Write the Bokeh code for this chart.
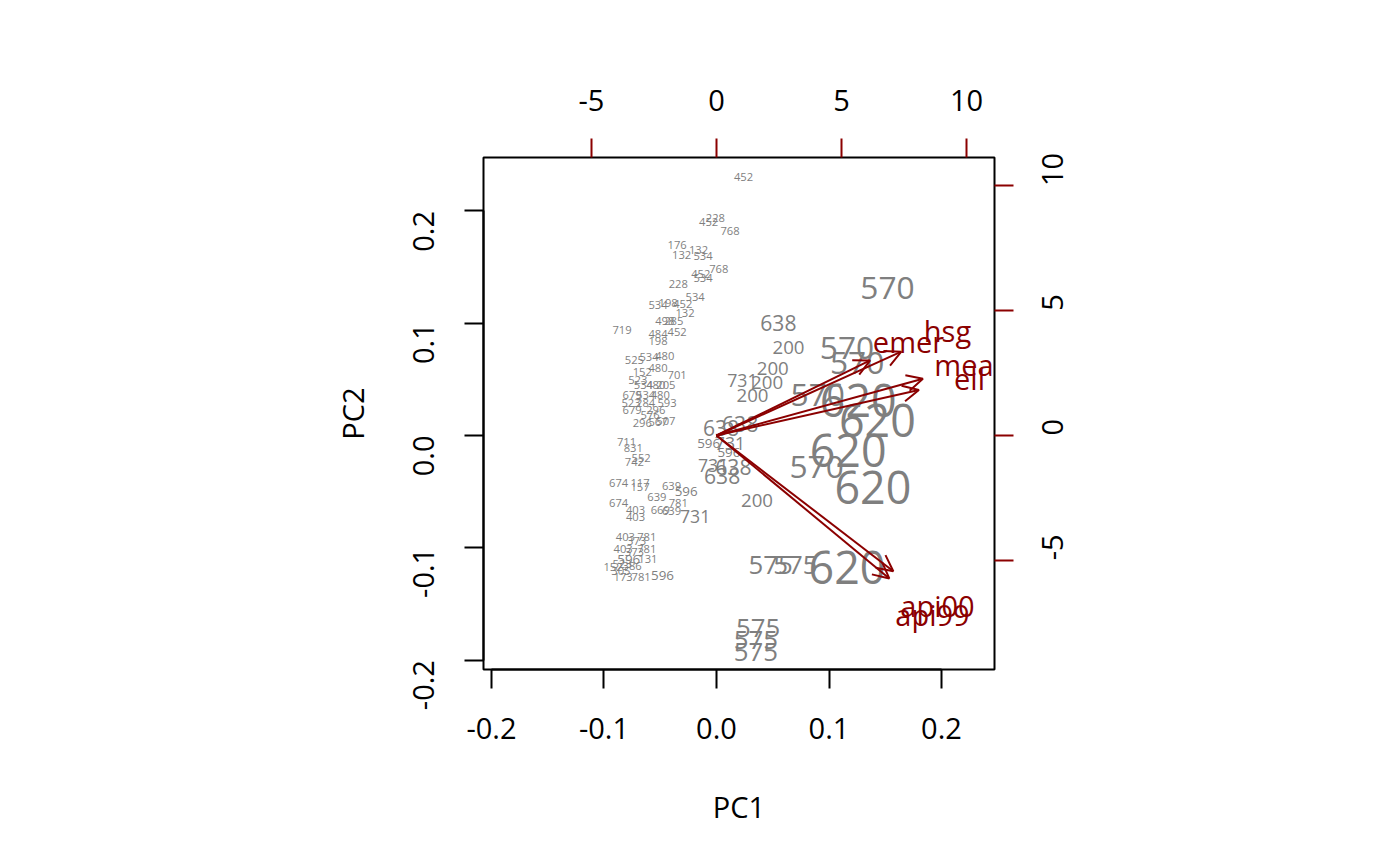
import math

from bokeh.core.properties import value
from bokeh.embed import file_html
from bokeh.models import (Arrow, ColumnDataSource, FixedTicker, LinearAxis,
                          OpenHead, PrintfTickFormatter, Range1d)
from bokeh.plotting import figure
from bokeh.resources import INLINE

# school scores on the first two principal components, labelled by district
score_label = [
    "452", "228", "452", "768", "176", "132", "132", "534", "768", "452",
    "534", "228", "534", "534", "198", "452", "132", "498", "285", "719",
    "452", "484", "198", "525", "534", "480", "152", "480", "701", "523",
    "534", "480", "205", "679", "534", "480", "523", "284", "593", "679",
    "296", "576", "296", "567", "507", "711", "831", "552", "742", "674",
    "117", "157", "639", "596", "674", "639", "781", "403", "403", "669",
    "639", "403", "781", "373", "403", "781", "373", "131", "596", "523",
    "152", "386", "305", "173", "781", "596",
    "731", "731", "731", "731",
    "200", "200", "200", "200", "200",
    "638", "638", "638", "638", "638",
    "596", "596",
    "570", "570", "570", "570", "570",
    "620", "620", "620", "620", "620",
    "575", "575", "575", "575", "575",
]
score_pc1 = [
    0.024, -0.001, -0.007, 0.012, -0.035, -0.031, -0.016, -0.012, 0.002, -0.014,
    -0.012, -0.034, -0.019, -0.052, -0.043, -0.030, -0.028, -0.046, -0.038, -0.084,
    -0.035, -0.052, -0.052, -0.073, -0.060, -0.046, -0.066, -0.052, -0.035, -0.070,
    -0.065, -0.054, -0.045, -0.075, -0.063, -0.050, -0.076, -0.063, -0.044, -0.075,
    -0.054, -0.059, -0.066, -0.052, -0.045, -0.080, -0.074, -0.067, -0.073, -0.087,
    -0.068, -0.068, -0.040, -0.027, -0.087, -0.053, -0.034, -0.072, -0.072, -0.050,
    -0.040, -0.081, -0.062, -0.071, -0.083, -0.062, -0.073, -0.061, -0.078, -0.084,
    -0.092, -0.075, -0.085, -0.083, -0.067, -0.048,
    0.023, 0.012, -0.003, -0.019,
    0.064, 0.050, 0.045, 0.032, 0.036,
    0.055, 0.004, 0.021, 0.015, 0.005,
    -0.007, 0.011,
    0.152, 0.116, 0.125, 0.090, 0.089,
    0.126, 0.143, 0.117, 0.139, 0.116,
    0.048, 0.070, 0.037, 0.035, 0.035,
]
score_pc2 = [
    0.230, 0.194, 0.190, 0.182, 0.170, 0.161, 0.165, 0.160, 0.148, 0.144,
    0.140, 0.135, 0.123, 0.116, 0.118, 0.117, 0.109, 0.102, 0.102, 0.094,
    0.092, 0.090, 0.084, 0.067, 0.070, 0.071, 0.057, 0.060, 0.054, 0.049,
    0.045, 0.045, 0.045, 0.036, 0.036, 0.036, 0.029, 0.029, 0.029, 0.023,
    0.023, 0.018, 0.011, 0.012, 0.013, -0.006, -0.011, -0.020, -0.024, -0.042,
    -0.042, -0.046, -0.045, -0.050, -0.060, -0.055, -0.060, -0.066, -0.073, -0.066,
    -0.067, -0.090, -0.090, -0.094, -0.101, -0.101, -0.104, -0.110, -0.110, -0.114,
    -0.117, -0.116, -0.121, -0.126, -0.126, -0.125,
    0.049, -0.007, -0.027, -0.072,
    0.078, 0.060, 0.047, 0.036, -0.058,
    0.100, 0.007, 0.010, -0.028, -0.036,
    -0.007, -0.015,
    0.131, 0.078, 0.065, 0.036, -0.028,
    0.031, 0.013, -0.013, -0.046, -0.118,
    -0.115, -0.115, -0.171, -0.182, -0.193,
]

# relative sampling weight of each district (1 if not listed), sets label size
district_weight = {
    "620": 4.0, "570": 2.83, "575": 2.3, "638": 1.88,
    "200": 1.67, "731": 1.58, "596": 1.2,
}

# variable loadings, on the secondary (top / right) axes
var_name = ["api00", "api99", "meals", "ell", "emer", "hsg"]
var_pc1 = [8.84, 8.64, 10.32, 10.12, 7.68, 9.24]
var_pc2 = [-6.80, -7.16, 2.84, 2.28, 3.76, 4.20]

pc_ticks = [-0.2, -0.1, 0.0, 0.1, 0.2]
load_ticks = [-5, 0, 5, 10]

FONT = "Open Sans"
GREY = "#7f7f7f"
RED = "#8b0000"
LOAD_SCALE = 45.0   # loading units per score unit
ARROW_FRAC = 0.8    # arrows stop short of the variable label
x_lim = (-0.2071, 0.2471)
y_lim = (-0.2084, 0.2476)

p = figure(
    x_range=Range1d(*x_lim),
    y_range=Range1d(*y_lim),
    frame_width=511,
    frame_height=512,
    min_border_left=483,
    min_border_right=398,
    min_border_top=157,
    min_border_bottom=189,
    x_axis_label="PC1",
    y_axis_label="PC2",
    tools="",
    toolbar_location=None,
    output_backend="svg",
)
p.extra_x_ranges = {"load_x": Range1d(x_lim[0] * LOAD_SCALE, x_lim[1] * LOAD_SCALE)}
p.extra_y_ranges = {"load_y": Range1d(y_lim[0] * LOAD_SCALE, y_lim[1] * LOAD_SCALE)}
p.add_layout(LinearAxis(x_range_name="load_x"), "above")
p.add_layout(LinearAxis(y_range_name="load_y"), "right")

p.grid.visible = False
p.outline_line_color = "black"
p.outline_line_width = 2
p.background_fill_color = "white"
p.border_fill_color = "white"


def style_axis(ax, ticks, fmt, color, standoff, title_standoff=0, orient=None):
    ax.ticker = FixedTicker(ticks=ticks)
    ax.formatter = PrintfTickFormatter(format=fmt)
    ax.bounds = (ticks[0], ticks[-1])
    ax.axis_line_color = "black" if color == "black" else None
    ax.axis_line_width = 2
    ax.major_tick_line_color = color
    ax.major_tick_line_width = 2
    ax.major_tick_out = 19
    ax.major_tick_in = 0
    ax.minor_tick_line_color = None
    ax.major_label_text_font = FONT
    ax.major_label_text_font_size = "29px"
    ax.major_label_text_color = "black"
    ax.major_label_standoff = standoff
    if orient is not None:
        ax.major_label_orientation = orient
    ax.axis_label_text_font = FONT
    ax.axis_label_text_font_size = "29px"
    ax.axis_label_text_font_style = "normal"
    ax.axis_label_text_color = "black"
    ax.axis_label_standoff = title_standoff


style_axis(p.below[0], pc_ticks, "%.1f", "black", 29, 45)
style_axis(p.left[0], pc_ticks, "%.1f", "black", 41, 28, math.pi / 2)
style_axis(p.above[0], load_ticks, "%d", RED, 28)
style_axis(p.right[0], load_ticks, "%d", RED, 39, orient=math.pi / 2)

scores = ColumnDataSource(dict(
    x=score_pc1,
    y=score_pc2,
    label=score_label,
    size=["%.1fpx" % (11.2 * district_weight.get(s, 1.0)) for s in score_label],
))
p.text(
    x="x", y="y", text="label", source=scores,
    text_font=value(FONT), text_font_size="size", text_color=GREY,
    text_align="center", text_baseline="middle",
)

loads = ColumnDataSource(dict(
    x=var_pc1,
    y=var_pc2,
    name=var_name,
    x0=[0] * len(var_name),
    y0=[0] * len(var_name),
    x1=[ARROW_FRAC * v for v in var_pc1],
    y1=[ARROW_FRAC * v for v in var_pc2],
))
p.text(
    x="x", y="y", text="name", source=loads,
    x_range_name="load_x", y_range_name="load_y",
    text_font=value(FONT), text_font_size="29px", text_color=RED,
    text_align="center", text_baseline="middle",
)
p.add_layout(Arrow(
    x_start="x0", y_start="y0", x_end="x1", y_end="y1", source=loads,
    end=OpenHead(size=16, line_color=RED, line_width=2),
    line_color=RED, line_width=2,
    x_range_name="load_x", y_range_name="load_y",
))

open("out.html", "w").write(file_html(p, INLINE))
